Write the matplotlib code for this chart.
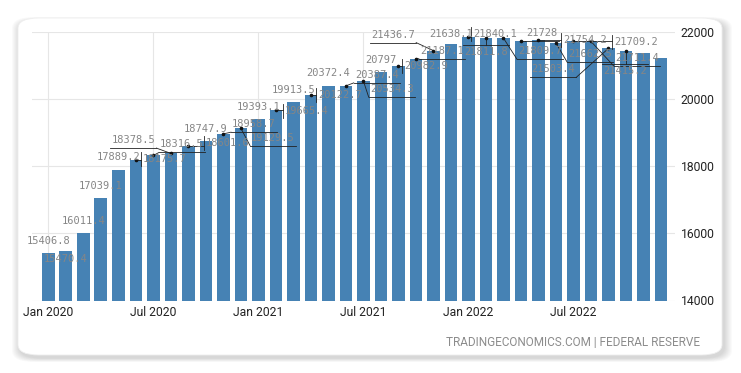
"""US M2 money supply, monthly bars with callout labels (TradingEconomics style)."""
import matplotlib
matplotlib.use("Agg")
import matplotlib.pyplot as plt  # noqa: E402
from matplotlib.patches import FancyBboxPatch  # noqa: E402
from matplotlib.lines import Line2D  # noqa: E402
from matplotlib.transforms import IdentityTransform  # noqa: E402

W, H = 741, 373

# monthly values, Jan 2020 .. Dec 2022 (USD billion)
m2 = [15406.8, 15470.4, 16011.4, 17039.1, 17889.2, 18175.7, 18316.5, 18378.5,
      18601.6, 18747.9, 18958.7, 19129.5, 19393.1, 19665.4, 19913.5, 20122.7,
      20372.4, 20387.4, 20534.3, 20797, 20982.9, 21187.1, 21436.7, 21638.1,
      21840.1, 21811.8, 21809.7, 21728, 21754.2, 21662.5, 21709.2, 21711.4,
      21503.4, 21415.2, 21360, 21210]
tick_pos = [0, 6, 12, 18, 24, 30]
tick_labels = ["Jan 2020", "Jul 2020", "Jan 2021", "Jul 2021", "Jan 2022", "Jul 2022"]
y_ticks = [14000, 16000, 18000, 20000, 22000]

# label placement: (dx, dy) in pixels from bar top to text centre (dy down), callout kind
label_style = [
    (0, -12, None), (0, 8, None), (0, -12, None), (0, -12.5, None), (0, -13, None),
    (29, -0.7, "side"), (28.7, -11, "under"), (-37.5, -13.3, "under"), (39.7, -2.7, "side"),
    (0, -12, None), (30.7, -9.7, "under"), (32.2, 9.4, "under"), (0, -12, None),
    (30.9, 1, "side"), (0, -12, None), (29.2, 0, "side"), (0, -13.4, None),
    (30.9, -11, "under"), (28.4, 8.3, "under"), (0, -12, None), (27.5, 0, "side"),
    (26, -8.3, "under"), (-40.3, -16, "under"), (0, -10, None), (26.7, -2.7, "side"),
    (0, 14, "over"), (36.7, 13.3, "under"), (20.9, -8, "under"), (46.7, 0, "side"),
    (34.2, 11, "under"), (62.7, 0.7, "side"), (45.9, 16.6, "under"), (-55.3, 21, "under"),
    (-0.8, 20, "over"), None, None,
]

BAR = "#4682b4"
GRID = "#e6e6e6"
LABEL = "#868686"

fig = plt.figure(figsize=(W / 100, H / 100), dpi=100)
fig.patch.set_facecolor("white")

# card with soft shadow
card = dict(x=18 / W, y=(H - 355) / H, w=(722 - 18) / W, h=(355 - 18) / H)
for k in range(8, 0, -1):
    sh = FancyBboxPatch((card["x"] + 2 / W, card["y"] - 3 / H), card["w"], card["h"],
                        boxstyle=f"round,pad={k / W},rounding_size=0.03",
                        transform=fig.transFigure, facecolor="#000000", alpha=0.018,
                        edgecolor="none", zorder=-3)
    fig.patches.append(sh)
fig.patches.append(FancyBboxPatch((card["x"], card["y"]), card["w"], card["h"],
                                  boxstyle="round,pad=0,rounding_size=0.028",
                                  transform=fig.transFigure, facecolor="white",
                                  edgecolor="#eeeeee", lw=0.6, zorder=-1))

ax = fig.add_axes([32 / W, (H - 300.5) / H, (675 - 32) / W, (300.5 - 31.7) / H])
ax.patch.set_visible(False)
x = list(range(len(m2)))
ax.bar(x, m2, width=0.72, color=BAR, zorder=2)
ax.set_xlim(-0.93, 35.8)
ax.set_ylim(14000, 22000)
ax.set_xticks(tick_pos)
ax.set_xticklabels(tick_labels)
ax.set_yticks(y_ticks)
ax.yaxis.tick_right()
ax.tick_params(length=0, labelsize=8.7, colors="#222222", pad=4)
for t in ax.get_xticklabels() + ax.get_yticklabels():
    t.set_fontfamily("Roboto")
ax.grid(True, color=GRID, lw=0.8, zorder=0)
for s in ax.spines.values():
    s.set_visible(False)

# callout labels, drawn in pixel space
ident = IdentityTransform()
for i, (v, st) in enumerate(zip(m2, label_style)):
    if st is None:
        continue
    dx, dy, kind = st
    px, py = ax.transData.transform((i, v))
    cx, cy = px + dx, py - dy
    txt = f"{v:g}"
    fig.text(cx, cy, txt, transform=ident, ha="center", va="center",
             family="DejaVu Sans Mono", fontsize=7.5, color=LABEL, zorder=5)
    if kind is None:
        continue
    w = len(txt) * 6.3
    if kind in ("under", "over"):
        ly = cy - 8 if kind == "under" else cy + 7
        x0, x1 = cx - w / 2 - 1, cx + w / 2 + 1
        fig.add_artist(Line2D([x0, x1], [ly, ly], transform=ident, color="#222222", lw=0.6))
        if x0 <= px <= x1:
            sx = px
        else:
            sx = x0 if px < x0 else x1
        fig.add_artist(Line2D([sx, px], [ly, py], transform=ident, color="#222222", lw=0.6))
    else:
        lx = cx - w / 2 - 2 if px < cx else cx + w / 2 + 2
        fig.add_artist(Line2D([lx, lx], [cy - 7, cy + 7], transform=ident,
                              color="#222222", lw=0.6))
        sy = min(max(py, cy - 7), cy + 7)
        fig.add_artist(Line2D([lx, px], [sy, py], transform=ident, color="#222222", lw=0.6))
    fig.add_artist(Line2D([px], [py], transform=ident, marker="o", ms=1.6,
                          color="#111111", lw=0))

fig.text(700 / W, 1 - 343 / H, "TRADINGECONOMICS.COM | FEDERAL RESERVE", ha="right",
         va="center", family="Roboto", fontsize=8.5, color="#8c8c8c")

fig.savefig("out.png", dpi=100)
plt.close(fig)
